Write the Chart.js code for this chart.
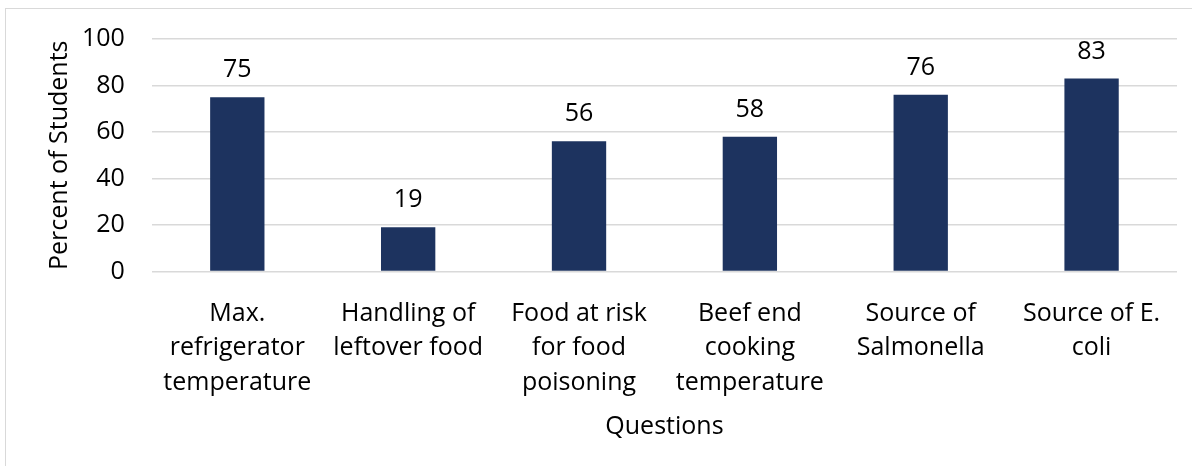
<!DOCTYPE html>
<html>
<head>
<meta charset="utf-8">
<script src="https://cdn.jsdelivr.net/npm/chart.js@4/dist/chart.umd.min.js"></script>
<style>
  html, body { margin: 0; padding: 0; background: #fff; }
  #wrap { position: relative; width: 1192px; height: 466px; }
  #frame { position: absolute; left: 5px; top: 8px; width: 1200px; height: 470px; border: 1px solid #d9d9d9; box-sizing: border-box; }
  canvas { position: absolute; left: 0; top: 0; }
</style>
</head>
<body>
<div id="wrap">
  <div id="frame"></div>
  <canvas id="chart" width="1192" height="466"></canvas>
</div>
<script>
// Survey questions and share of students answering correctly
const questions = [
  ['Max.', 'refrigerator', 'temperature'],
  ['Handling of', 'leftover food'],
  ['Food at risk', 'for food', 'poisoning'],
  ['Beef end', 'cooking', 'temperature'],
  ['Source of', 'Salmonella'],
  ['Source of E.', 'coli']
];
const percentCorrect = [75, 19, 56, 58, 76, 83];
const yTicks = [0, 20, 40, 60, 80, 100];

const FONT = '"Open Sans", sans-serif';
const SIZE = 25;
const TEXT = '#000000';

// value labels above each bar
const barValues = {
  id: 'barValues',
  afterDatasetsDraw(chart) {
    const { ctx } = chart;
    const meta = chart.getDatasetMeta(0);
    ctx.save();
    ctx.font = SIZE + 'px ' + FONT;
    ctx.fillStyle = TEXT;
    ctx.textAlign = 'center';
    ctx.textBaseline = 'alphabetic';
    meta.data.forEach((bar, i) => {
      ctx.fillText(String(percentCorrect[i]), bar.x, bar.y - 20);
    });
    ctx.restore();
  }
};

new Chart(document.getElementById('chart'), {
  type: 'bar',
  data: {
    labels: questions,
    datasets: [{
      data: percentCorrect,
      backgroundColor: '#1d335f',
      borderWidth: 0,
      barPercentage: 0.53,
      categoryPercentage: 0.6
    }]
  },
  options: {
    responsive: false,
    animation: false,
    layout: { padding: { top: 23, right: 15, bottom: 24, left: 45 } },
    plugins: { legend: { display: false }, tooltip: { enabled: false } },
    scales: {
      x: {
        grid: { display: false, drawTicks: false },
        border: { display: false },
        ticks: {
          color: TEXT,
          font: { family: FONT, size: SIZE, lineHeight: 1.38 },
          padding: 25, maxRotation: 0, autoSkip: false
        },
        title: {
          display: true, text: 'Questions', color: TEXT,
          font: { family: FONT, size: SIZE }, padding: { top: -13, bottom: 0 }
        }
      },
      y: {
        min: 0,
        max: 100,
        afterBuildTicks(scale) { scale.ticks = yTicks.map(v => ({ value: v })); },
        grid: { color: '#d9d9d9', lineWidth: 1.5, drawTicks: false },
        border: { display: false },
        ticks: { color: TEXT, font: { family: FONT, size: SIZE, lineHeight: 0.96 }, padding: 27 },
        title: {
          display: true, text: 'Percent of Students', color: TEXT,
          font: { family: FONT, size: SIZE }, padding: { top: 0, bottom: -20 }
        }
      }
    }
  },
  plugins: [barValues]
});
</script>
</body>
</html>
